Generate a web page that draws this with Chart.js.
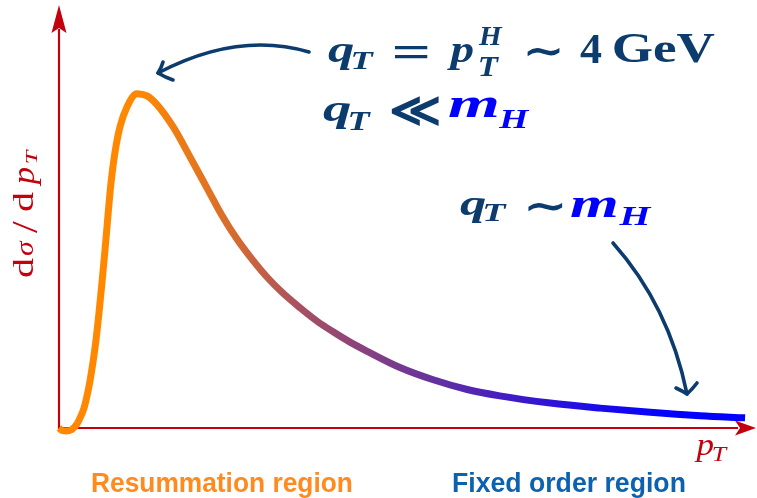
<!DOCTYPE html>
<html>
<head>
<meta charset="utf-8">
<script src="https://cdn.jsdelivr.net/npm/chart.js@4.4.1/dist/chart.umd.min.js"></script>
<style>
  html, body { margin: 0; padding: 0; background: #ffffff; }
  canvas { display: block; }
</style>
</head>
<body>
<canvas id="c" width="757" height="498"></canvas>
<script>
// Transverse-momentum axis (arbitrary units, 0..100) and spectrum dσ/dpT (arbitrary units, 0..100)
const ptValues = [0.0, 0.43, 1.15, 1.88, 2.6, 3.17, 3.61, 4.04, 4.47, 4.91, 5.34, 5.77, 6.2, 6.64, 7.07, 7.5, 8.08, 8.8, 9.81, 11.26, 12.7, 14.1, 16.5, 18.9, 21.4, 23.5, 25.7, 27.9, 30.0, 32.3, 34.8, 37.2, 39.5, 42.0, 44.4, 49.2, 54.0, 58.9, 63.6, 70.9, 78.1, 85.3, 92.5, 99.0];
const spectrumValues = [0.0, -0.59, -0.71, -0.35, 0.95, 2.84, 4.73, 7.57, 11.1, 15.6, 20.8, 27.2, 34.3, 42.1, 50.3, 57.9, 65.2, 71.2, 75.9, 79.0, 78.5, 76.5, 71.1, 64.1, 56.6, 50.3, 44.6, 39.8, 35.7, 31.9, 28.4, 25.3, 22.8, 20.3, 18.2, 14.3, 11.4, 9.1, 7.6, 5.9, 4.7, 3.7, 2.9, 2.4];
const xRange = [0, 100];
const yRange = [0, 100];
const regionLabels = ["Resummation region", "Fixed order region"];
const axisLabelX = ["p", "T"];
const axisLabelY = ["d", "σ", "/", "d", "p", "T"];

const AXIS_RED = '#c4000f';
const DARK_BLUE = '#0c3b6e';
const BRIGHT_BLUE = '#0000ff';

function fitText(ctx, str, font, color, x1, y1, x2, y2) {
  ctx.font = font;
  const m = ctx.measureText(str);
  const w = m.actualBoundingBoxLeft + m.actualBoundingBoxRight;
  const h = m.actualBoundingBoxAscent + m.actualBoundingBoxDescent;
  const sx = (x2 - x1) / w, sy = (y2 - y1) / h;
  ctx.save();
  ctx.translate(x1, y1);
  ctx.scale(sx, sy);
  ctx.fillStyle = color;
  ctx.textAlign = 'left';
  ctx.textBaseline = 'alphabetic';
  ctx.fillText(str, m.actualBoundingBoxLeft, m.actualBoundingBoxAscent);
  ctx.restore();
}
// Box given in canvas coordinates; text runs bottom-to-top
function fitTextVertical(ctx, str, font, color, x1, y1, x2, y2) {
  ctx.save();
  ctx.rotate(-Math.PI / 2);
  fitText(ctx, str, font, color, -y2, x1, -y1, x2);
  ctx.restore();
}

const BI = (s) => 'bold italic ' + s + 'px "Liberation Serif", "DejaVu Serif", serif';
const B = (s) => 'bold ' + s + 'px "Liberation Serif", "DejaVu Serif", serif';
const BS = (s) => 'bold ' + s + 'px "DejaVu Serif", serif';
const I = (s) => 'italic ' + s + 'px "Liberation Serif", "DejaVu Serif", serif';
const R = (s) => s + 'px "Liberation Serif", "DejaVu Serif", serif';
const SANS = (s) => 'bold ' + s + 'px "Liberation Sans Narrow", "Liberation Sans", Arial, sans-serif';

const axesPlugin = {
  id: 'arrowAxes',
  beforeDatasetsDraw(chart) {
    const ctx = chart.ctx;
    const xs = chart.scales.x, ys = chart.scales.y;
    const x0 = xs.getPixelForValue(xRange[0]);
    const y0 = ys.getPixelForValue(yRange[0]);
    const top = chart.chartArea.top;
    const right = chart.chartArea.right + 4;
    ctx.save();
    ctx.strokeStyle = AXIS_RED;
    ctx.fillStyle = AXIS_RED;
    ctx.lineWidth = 2.2;
    ctx.beginPath();
    ctx.moveTo(x0, y0 + 1);
    ctx.lineTo(x0, top + 24);
    ctx.moveTo(x0 - 1, y0);
    ctx.lineTo(right - 18, y0);
    ctx.stroke();
    // y arrow head
    ctx.beginPath();
    ctx.moveTo(x0, top);
    ctx.lineTo(x0 + 7.5, top + 28);
    ctx.lineTo(x0, top + 23);
    ctx.lineTo(x0 - 7.5, top + 28);
    ctx.closePath();
    ctx.fill();
    // x arrow head
    ctx.beginPath();
    ctx.moveTo(right, y0);
    ctx.lineTo(right - 21, y0 - 7.5);
    ctx.lineTo(right - 16, y0);
    ctx.lineTo(right - 21, y0 + 7.5);
    ctx.closePath();
    ctx.fill();
    ctx.restore();
  }
};

function curvedArrow(ctx, p0, c, p2, b1, b2) {
  ctx.save();
  ctx.strokeStyle = DARK_BLUE;
  ctx.lineWidth = 3.6;
  ctx.lineCap = 'round';
  ctx.lineJoin = 'round';
  ctx.beginPath();
  ctx.moveTo(p0[0], p0[1]);
  ctx.quadraticCurveTo(c[0], c[1], p2[0], p2[1]);
  ctx.stroke();
  ctx.beginPath();
  ctx.moveTo(b1[0], b1[1]);
  ctx.quadraticCurveTo((b1[0] + p2[0]) / 2 + 1, (b1[1] + p2[1]) / 2, p2[0], p2[1]);
  ctx.quadraticCurveTo((b2[0] + p2[0]) / 2, (b2[1] + p2[1]) / 2 + 1, b2[0], b2[1]);
  ctx.stroke();
  ctx.restore();
}

const annotationsPlugin = {
  id: 'annotations',
  afterDraw(chart) {
    const ctx = chart.ctx;
    // arrows
    curvedArrow(ctx, [309, 52], [238, 31], [158, 73], [163, 62], [173, 80]);
    curvedArrow(ctx, [613, 243], [669, 306], [687, 394], [676, 388], [697, 383]);

    // line 1: q_T = p_T^H ~ 4 GeV
    fitText(ctx, 'q', BI(40), DARK_BLUE, 328, 43, 353, 70);
    fitText(ctx, 'T', BI(28), DARK_BLUE, 353, 53, 375, 69);
    fitText(ctx, '=', B(40), DARK_BLUE, 395, 45, 428, 58);
    fitText(ctx, 'p', BI(40), DARK_BLUE, 447, 43, 473, 71);
    fitText(ctx, 'H', BI(28), DARK_BLUE, 478, 28, 503, 45);
    fitText(ctx, 'T', BI(28), DARK_BLUE, 480, 57, 500, 76);
    fitText(ctx, '∼', BS(40), DARK_BLUE, 527, 47, 560, 57);
    fitText(ctx, '4', B(40), DARK_BLUE, 580, 35, 602, 63);
    fitText(ctx, 'GeV', B(40), DARK_BLUE, 613, 34, 715, 63);

    // line 2: q_T << m_H
    fitText(ctx, 'q', BI(40), DARK_BLUE, 323, 102, 350, 130);
    fitText(ctx, 'T', BI(28), DARK_BLUE, 350, 112, 372, 130);
    fitText(ctx, '≪', BS(40), DARK_BLUE, 392, 95, 440, 127);
    fitText(ctx, 'm', BI(40), BRIGHT_BLUE, 448, 96, 498, 117);
    fitText(ctx, 'H', BI(28), BRIGHT_BLUE, 498, 110, 530, 128);

    // line 3: q_T ~ m_H
    fitText(ctx, 'q', BI(40), DARK_BLUE, 460, 197, 485, 223);
    fitText(ctx, 'T', BI(28), DARK_BLUE, 485, 205, 508, 221);
    fitText(ctx, '∼', BS(40), DARK_BLUE, 528, 202, 563, 212);
    fitText(ctx, 'm', BI(40), BRIGHT_BLUE, 570, 197, 617, 217);
    fitText(ctx, 'H', BI(28), BRIGHT_BLUE, 618, 208, 652, 225);

    // y axis label dσ/dp_T (rotated)
    fitTextVertical(ctx, axisLabelY[0], R(26), AXIS_RED, 14, 258, 33, 278);
    fitTextVertical(ctx, axisLabelY[1], I(26), AXIS_RED, 20, 240, 33, 256);
    fitTextVertical(ctx, axisLabelY[2], R(26), AXIS_RED, 13, 220, 37, 233);
    fitTextVertical(ctx, axisLabelY[3], R(26), AXIS_RED, 14, 192, 33, 212);
    fitTextVertical(ctx, axisLabelY[4], I(26), AXIS_RED, 20, 167, 40, 187);
    fitTextVertical(ctx, axisLabelY[5], I(18), AXIS_RED, 25, 148, 37, 163);

    // x axis label p_T
    fitText(ctx, axisLabelX[0], I(28), AXIS_RED, 694, 441, 714, 462);
    fitText(ctx, axisLabelX[1], I(19), AXIS_RED, 713, 447, 728, 461);

    // region labels
    fitText(ctx, regionLabels[0], SANS(26), '#ff8a1e', 92, 471, 352, 497);
    fitText(ctx, regionLabels[1], SANS(26), '#0b62b0', 453, 471, 685, 497);
  }
};

function curveGradient(context) {
  const chart = context.chart;
  if (!chart.chartArea) return '#ff8800';
  const xs = chart.scales.x;
  const g = chart.ctx.createLinearGradient(xs.getPixelForValue(xRange[0]), 0, xs.getPixelForValue(xRange[1]), 0);
  g.addColorStop(0.0, 'rgb(255,136,0)');
  g.addColorStop(0.117, 'rgb(255,136,0)');
  g.addColorStop(0.257, 'rgb(212,106,50)');
  g.addColorStop(0.348, 'rgb(168,80,98)');
  g.addColorStop(0.54, 'rgb(100,50,158)');
  g.addColorStop(0.636, 'rgb(70,30,192)');
  g.addColorStop(0.78, 'rgb(25,10,235)');
  g.addColorStop(0.896, 'rgb(0,0,255)');
  g.addColorStop(1.0, 'rgb(0,0,255)');
  return g;
}

new Chart(document.getElementById('c'), {
  type: 'line',
  data: {
    datasets: [{
      data: ptValues.map((x, i) => ({ x: x, y: spectrumValues[i] })),
      borderColor: curveGradient,
      borderWidth: 7,
      pointRadius: 0,
      cubicInterpolationMode: 'monotone',
      fill: false,
      clip: false,
      borderCapStyle: 'butt',
      borderJoinStyle: 'round'
    }]
  },
  options: {
    responsive: false,
    devicePixelRatio: 1,
    animation: false,
    layout: { padding: { left: 59, right: 5, top: 5, bottom: 70 } },
    scales: {
      x: { type: 'linear', min: xRange[0], max: xRange[1], display: false },
      y: { type: 'linear', min: yRange[0], max: yRange[1], display: false }
    },
    plugins: { legend: { display: false }, tooltip: { enabled: false } }
  },
  plugins: [axesPlugin, annotationsPlugin]
});
</script>
</body>
</html>
